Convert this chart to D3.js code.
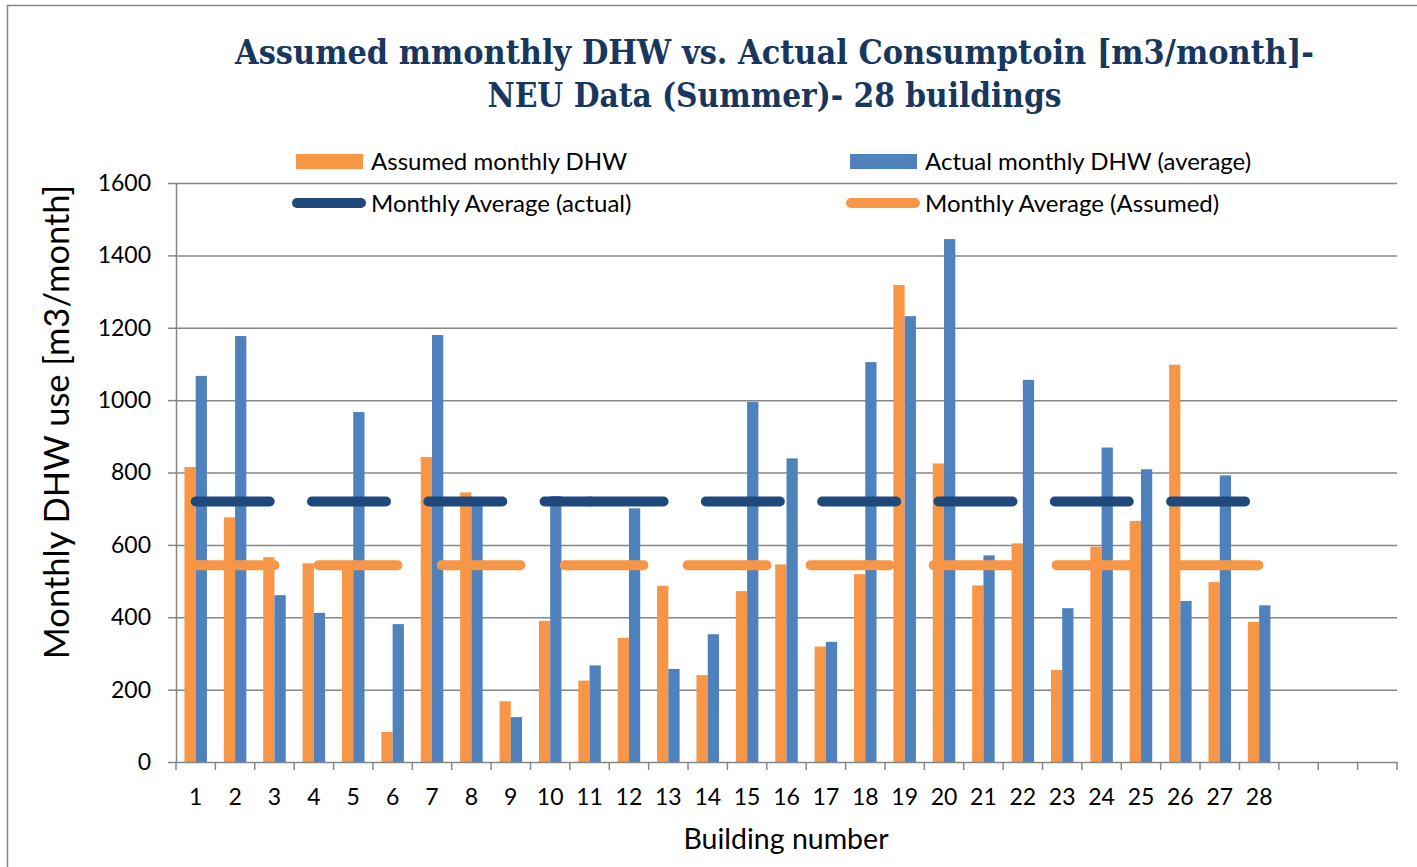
<!DOCTYPE html>
<html>
<head>
<meta charset="utf-8">
<script src="https://cdn.jsdelivr.net/npm/d3@7"></script>
<style>
  body { margin: 0; background: #fff; }
  svg { display: block; }
</style>
</head>
<body>
<div id="chart"></div>
<script>
// chart values
const buildingLabels = ["1","2","3","4","5","6","7","8","9","10","11","12","13","14",
  "15","16","17","18","19","20","21","22","23","24","25","26","27","28","","",""];
const assumedDHW = [815, 676, 566, 549, 540, 83, 843, 745, 168, 390, 225, 343, 487, 240,
  472, 546, 319, 519, 1318, 825, 488, 604, 254, 595, 666, 1098, 497, 387];
const actualDHW = [1067, 1177, 461, 412, 967, 381, 1180, 712, 124, 735, 267, 701, 257, 353,
  995, 839, 332, 1105, 1232, 1445, 571, 1056, 425, 869, 809, 445, 792, 433];
const avgActual = [720, 720, 720, 720, 720, 720, 720, 720, 720, 720, 720, 720, 720, 720,
  720, 720, 720, 720, 720, 720, 720, 720, 720, 720, 720, 720, 720, 720];
const avgAssumed = [544, 544, 544, 544, 544, 544, 544, 544, 544, 544, 544, 544, 544, 544,
  544, 544, 544, 544, 544, 544, 544, 544, 544, 544, 544, 544, 544, 544];
const avgActualBreak = 11;   // dash pattern restarts at building 11 in the original
const yTicks = [0, 200, 400, 600, 800, 1000, 1200, 1400, 1600];
const titleLines = ["Assumed mmonthly DHW vs. Actual Consumptoin [m3/month]-",
  "NEU Data (Summer)- 28 buildings"];
const seriesNames = ["Assumed monthly DHW", "Actual monthly DHW (average)",
  "Monthly Average (actual)", "Monthly Average (Assumed)"];

const W = 1417, H = 867;
const plot = { left: 176, right: 1397, top: 183, bottom: 762 };
const orange = "#F79646", blue = "#4F81BD", navy = "#1F497D", grid = "#868686";
const font = "Lato, 'Liberation Sans', sans-serif";

const svg = d3.select("#chart").append("svg")
  .attr("width", W).attr("height", H);

// outer chart border
svg.append("rect")
  .attr("x", 7.5).attr("y", 5.5).attr("width", W).attr("height", H)
  .attr("fill", "none").attr("stroke", grid).attr("stroke-width", 1.5);

const x = d3.scaleBand()
  .domain(d3.range(buildingLabels.length))
  .range([plot.left, plot.right]);
const xSub = d3.scaleBand()
  .domain(["assumed", "actual"])
  .range([0, x.bandwidth()])
  .paddingOuter(0.75);
const y = d3.scaleLinear().domain([0, 1600]).range([plot.bottom, plot.top]);

// gridlines
svg.append("g")
  .attr("transform", `translate(${plot.left},0)`)
  .call(d3.axisLeft(y).tickValues(yTicks.slice(1)).tickSize(-(plot.right - plot.left)).tickFormat(""))
  .call(g => g.select(".domain").remove())
  .call(g => g.selectAll("line").attr("stroke", grid).attr("stroke-width", 1.5));

// y axis
svg.append("g")
  .attr("transform", `translate(${plot.left},0)`)
  .call(d3.axisLeft(y).tickValues(yTicks).tickFormat(d3.format("d"))
    .tickSize(8).tickPadding(17).tickSizeOuter(0))
  .call(g => g.select(".domain").attr("stroke", grid).attr("stroke-width", 1.5))
  .call(g => g.selectAll("line").attr("stroke", grid).attr("stroke-width", 1.5))
  .call(g => g.selectAll("text").attr("font-family", font).attr("font-size", 23).attr("fill", "#000"));

// bars
const bars = svg.append("g");
bars.selectAll(".assumed")
  .data(assumedDHW)
  .join("rect")
  .attr("class", "assumed")
  .attr("x", (d, i) => x(i) + xSub("assumed"))
  .attr("width", xSub.bandwidth())
  .attr("y", d => y(d))
  .attr("height", d => y(0) - y(d))
  .attr("fill", orange);
bars.selectAll(".actual")
  .data(actualDHW)
  .join("rect")
  .attr("class", "actual")
  .attr("x", (d, i) => x(i) + xSub("actual"))
  .attr("width", xSub.bandwidth())
  .attr("y", d => y(d))
  .attr("height", d => y(0) - y(d))
  .attr("fill", blue);

// x axis: labels at centres, ticks at category boundaries
const xAxis = svg.append("g")
  .attr("transform", `translate(0,${plot.bottom})`)
  .call(d3.axisBottom(x).tickFormat(i => buildingLabels[i]).tickSize(0).tickPadding(26.5))
  .call(g => g.select(".domain").attr("stroke", grid).attr("stroke-width", 1.5))
  .call(g => g.selectAll("text").attr("font-family", font).attr("font-size", 23).attr("fill", "#000"));
xAxis.selectAll(".bound")
  .data(d3.range(buildingLabels.length + 1))
  .join("line")
  .attr("class", "bound")
  .attr("x1", i => i < buildingLabels.length ? x(i) : plot.right)
  .attr("x2", i => i < buildingLabels.length ? x(i) : plot.right)
  .attr("y1", 0).attr("y2", 8)
  .attr("stroke", grid).attr("stroke-width", 1.5);

// average lines
const line = d3.line()
  .x(d => x(d.i) + x.bandwidth() / 2)
  .y(d => y(d.v));
const pts = arr => arr.map((v, i) => ({ i, v }));

const actualPts = pts(avgActual);
[actualPts.slice(0, avgActualBreak), actualPts.slice(avgActualBreak - 1)].forEach(seg => {
  svg.append("path")
    .datum(seg)
    .attr("d", line)
    .attr("fill", "none")
    .attr("stroke", navy)
    .attr("stroke-width", 10)
    .attr("stroke-linecap", "round")
    .attr("stroke-dasharray", "74 42.3");
});
svg.append("path")
  .datum(pts(avgAssumed))
  .attr("d", line)
  .attr("fill", "none")
  .attr("stroke", orange)
  .attr("stroke-width", 10)
  .attr("stroke-linecap", "round")
  .attr("stroke-dasharray", "78.7 44.3");

// legend
const legendPos = [[296, 161], [850, 161], [296, 203], [850, 203]];
const legend = svg.append("g");
seriesNames.forEach((name, k) => {
  const [lx, ly] = legendPos[k];
  if (k < 2) {
    legend.append("rect")
      .attr("x", lx).attr("y", ly - 7).attr("width", 67).attr("height", 15)
      .attr("fill", k === 0 ? orange : blue);
  } else {
    legend.append("line")
      .attr("x1", lx + 1).attr("x2", lx + 65).attr("y1", ly).attr("y2", ly)
      .attr("stroke", k === 2 ? navy : orange)
      .attr("stroke-width", 10).attr("stroke-linecap", "round");
  }
  legend.append("text")
    .attr("x", lx + 75).attr("y", ly + 8.5)
    .attr("font-family", font).attr("font-size", 24)
    .text(name);
});

// titles
svg.selectAll(".title")
  .data(titleLines)
  .join("text")
  .attr("class", "title")
  .attr("x", 774.5)
  .attr("y", (d, i) => 64 + i * 43)
  .attr("text-anchor", "middle")
  .attr("font-family", "'DejaVu Serif', 'Liberation Serif', serif")
  .attr("font-weight", "bold")
  .attr("font-size", 33)
  .attr("fill", "#17375E")
  .attr("textLength", (d, i) => i === 0 ? 1079 : 574)
  .attr("lengthAdjust", "spacingAndGlyphs")
  .text(d => d);

svg.append("text")
  .attr("transform", "translate(69,422) rotate(-90)")
  .attr("text-anchor", "middle")
  .attr("font-family", font)
  .attr("font-size", 34.5)
  .text("Monthly DHW use [m3/month]");

svg.append("text")
  .attr("x", 786).attr("y", 849)
  .attr("text-anchor", "middle")
  .attr("font-family", font)
  .attr("font-size", 28.5)
  .text("Building number");
</script>
</body>
</html>
